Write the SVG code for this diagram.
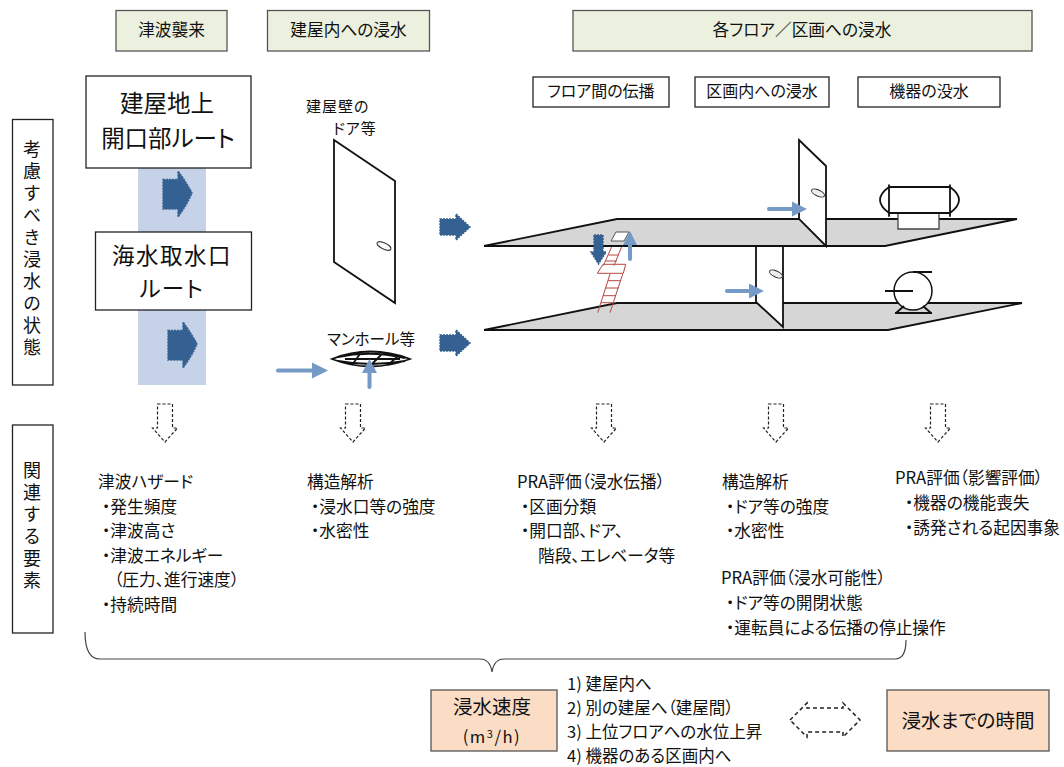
<svg xmlns="http://www.w3.org/2000/svg" width="1064" height="767" viewBox="0 0 1064 767">
<style>
text{font-family:"Noto Sans CJK JP","Liberation Sans",sans-serif;fill:#111;font-size:16.700px;font-feature-settings:"palt"}
.c{text-anchor:middle}
.hd{fill:#ebf1de;stroke:#555;stroke-width:1.3}
.bx{fill:#fff;stroke:#222;stroke-width:1.3}
.org{fill:#fbdcc5;stroke:#555;stroke-width:1.3}
.big{font-size:23.500px}
.v{writing-mode:vertical-rl;text-orientation:upright;font-size:18px;letter-spacing:4px;font-feature-settings:normal}
.m{font-size:19.500px}
.li{font-size:16.500px}
.sh{font-size:16px}
.flr{fill:#d6d6d6;stroke:none}
.k{stroke:#111;stroke-width:1.8;fill:none}
.wl{fill:#fff;stroke:#111;stroke-width:1.8}
.dk{fill:#356192;stroke:#356192;stroke-width:1.500;stroke-dasharray:2 1}
.lt{fill:#759ac6}
.ltl{stroke:#759ac6;stroke-width:4;stroke-linecap:round;fill:none}
.da{fill:#fff;stroke:#222;stroke-width:1.2;stroke-dasharray:3 2}
.r{stroke:#b5473f;stroke-width:1;fill:none}
</style>
<defs>
<path id="blk" d="M0 8.500H15V0Q24 12 29 22 24 34 15 46V38H0Z" class="dk"/>
<path id="blks" d="M0 5H16V0L30 13 16 26V21H0Z" class="dk"/>
<path id="dn" d="M-7.500 0H7.500V24H12.500L0 38-12.500 24H-7.500Z" class="da"/>
</defs>
<g id="band"><rect x="138" y="168" width="68" height="217" fill="#c5d2e7"/></g>
<g id="hdr-tsunami"><rect class="hd" x="116" y="10.500" width="111" height="40.500"/><text class="c" x="171.500" y="36">津波襲来</text></g>
<g id="hdr-building"><rect class="hd" x="267.500" y="10.500" width="162" height="40.500"/><text class="c" x="348.500" y="36">建屋内への浸水</text></g>
<g id="hdr-floors"><rect class="hd" x="573" y="10.500" width="459" height="40.500"/><text class="c" x="802" y="36">各フロア／区画への浸水</text></g>
<g id="sub-1"><rect class="bx" x="533" y="77" width="136" height="30"/><text class="c sh" x="601" y="97">フロア間の伝播</text></g>
<g id="sub-2"><rect class="bx" x="695" y="77" width="134" height="30"/><text class="c sh" x="762" y="97">区画内への浸水</text></g>
<g id="sub-3"><rect class="bx" x="858" y="77" width="142" height="30"/><text class="c sh" x="929" y="97">機器の没水</text></g>
<g id="side-1"><rect class="bx" x="12.500" y="119.500" width="40.500" height="265.500"/><text class="v" x="32" y="140">考慮すべき浸水の状態</text></g>
<g id="side-2"><rect class="bx" x="12.500" y="425" width="40.500" height="208"/><text class="v" x="32" y="461">関連する要素</text></g>
<g id="route-1"><rect class="bx" x="86" y="76" width="165" height="92"/><text class="c big" x="167" y="112">建屋地上</text><text class="c big" x="168" y="147">開口部ルート</text></g>
<g id="route-2"><rect class="bx" x="95.500" y="232" width="156" height="78"/><text class="c" style="font-size:22.500px;letter-spacing:1.500px" x="172" y="264">海水取水口</text><text class="c" style="font-size:22.500px;letter-spacing:1.500px" x="172" y="297">ルート</text></g>
<g id="door"><path class="wl" d="M334 140L395 181V303L334 262Z"/><ellipse cx="384" cy="246" rx="7.500" ry="3" transform="rotate(25 384 246)" fill="#fff" stroke="#333"/><text x="306" y="112" style="font-size:15px;letter-spacing:1px">建屋壁の</text><text x="333" y="134" style="font-size:15px;letter-spacing:1px">ドア等</text></g>
<g id="manhole"><text class="c" x="371" y="345" style="font-size:15.500px">マンホール等</text>
<path class="k" d="M332 359Q370 344 410 359Q370 374 332 359ZM338 357Q370 350 405 358M338 361Q370 367 405 361" stroke-width="1.300"/><path class="k" d="M352 365L360 354M371 365L381 355M388 365L397 357M345 359H400" stroke-width="1"/></g>
<g id="floors">
<path class="flr" d="M484 246L617 219H1017L885 246Z"/><path class="k" d="M484 246L617 219H1017L885 246H484"/>
<path class="flr" d="M484 330L617 303H1022L888 330Z"/><path class="k" d="M484 330L617 303H1022L888 330H484"/>
</g>
<g id="stairs"><path class="r" d="M621.700 246.700L614 265.700M611.700 246.700L603.300 265.700M597.300 273.300L603 264.300H625.700L623.300 273.300ZM610 274L597.700 312.700M622.700 274L610 312.700M608.500 255H618.500M606 261H616.500M608 280.700H621M605.500 288H618.500M603 295.700H616M601 302.700H613.500"/></g>
<g id="hatch"><path d="M616 232H629L624 241H611Z" fill="#fff" stroke="#555" stroke-width="1"/></g>
<g id="wall-upper"><path class="wl" d="M799 140L826 166V246L799 219Z"/><ellipse cx="818" cy="193" rx="7" ry="3" transform="rotate(25 818 193)" fill="#eee" stroke="#333"/></g>
<g id="wall-lower"><path class="wl" d="M756 246H783V327L756 302Z"/><ellipse cx="776" cy="274" rx="7" ry="3" transform="rotate(25 776 274)" fill="#eee" stroke="#333"/></g>
<g id="tank"><path class="bx" d="M898 213H939V229H898Z" style="stroke:#444"/><path d="M889 187H950V213H889Z" fill="#fff"/><path class="k" d="M889 187H950M889 213H950M889 184.500V216.700M950 184.500V216.700M889 187Q871 200 889 213M950 187Q968 200 950 213" stroke-width="1.500"/></g>
<g id="pump"><circle cx="913" cy="291" r="19" fill="#fff" stroke="#111" stroke-width="1.500"/><path class="k" d="M885 291H913M913 272H932M895 313H932M896 313L904 306M931 313L923 306" stroke-width="1.500"/></g>
<g id="connectors">
<use href="#blk" x="163" y="171"/><use href="#blk" x="168" y="322"/>
<use href="#blks" x="440" y="214"/><use href="#blks" x="440" y="330"/>
<path class="ltl" d="M278 370.500H314"/><path class="lt" d="M312 362.500L328 370.500 312 378.500Z"/>
<path class="ltl" d="M369.500 387V372"/><path class="lt" d="M362 373L369.500 359 377 373Z"/>
<path class="ltl" d="M769 209H795"/><path class="lt" d="M792 201.500L807 209 792 216.500Z"/>
<path class="ltl" d="M727 291H750"/><path class="lt" d="M749 283.500L764 291 749 298.500Z"/>
<path class="dk" d="M594 235H603V252H606L598.500 264 591 252H594Z"/>
<path class="ltl" d="M630 259V243"/><path class="lt" d="M623 245L630 231 637 245Z"/>
<use href="#dn" x="165" y="404"/><use href="#dn" x="353" y="404"/><use href="#dn" x="604" y="404"/><use href="#dn" x="776" y="404"/><use href="#dn" x="938" y="404"/>
<path d="M85 632Q85 659 100 659H480Q490 659 492 672Q494 659 504 659H895Q906 659 906 640" fill="none" stroke="#444" stroke-width="1.200"/>
<path d="M790 720L807 703V708H843V703L860 720 843 737V732H807V737Z" fill="#fff" stroke="#222" stroke-width="1.500" stroke-dasharray="4 3"/>
</g>
<g id="txt-1"><text x="98" y="488">津波ハザード</text><text x="102" y="512.500">・発生頻度</text><text x="102" y="537">・津波高さ</text><text x="102" y="561.500">・津波エネルギー</text><text x="114" y="586">（圧力、進行速度）</text><text x="102" y="610.500">・持続時間</text></g>
<g id="txt-2"><text x="307" y="488">構造解析</text><text x="311" y="512.500">・浸水口等の強度</text><text x="311" y="537">・水密性</text></g>
<g id="txt-3"><text x="517" y="488">PRA評価（浸水伝播）</text><text x="521" y="512.500">・区画分類</text><text x="521" y="537">・開口部、ドア、</text><text x="538" y="561.500">階段、エレベータ等</text></g>
<g id="txt-4"><text x="722" y="488">構造解析</text><text x="726" y="512.500">・ドア等の強度</text><text x="726" y="537">・水密性</text><text x="721" y="584">PRA評価（浸水可能性）</text><text x="726" y="609">・ドア等の開閉状態</text><text x="726" y="634">・運転員による伝播の停止操作</text></g>
<g id="txt-5"><text x="895" y="484">PRA評価（影響評価）</text><text x="905" y="509">・機器の機能喪失</text><text x="905" y="534">・誘発される起因事象</text></g>
<g id="speed"><rect class="org" x="431" y="690" width="126" height="61"/><text class="c m" x="492" y="714">浸水速度</text><text class="c" x="492" y="743" style="letter-spacing:1.500px">(m<tspan dy="-5" font-size="11">3</tspan><tspan dy="5">/h)</tspan></text></g>
<g id="speed-list"><text class="li" x="567" y="690">1) 建屋内へ</text><text class="li" x="567" y="714">2) 別の建屋へ（建屋間）</text><text class="li" x="567" y="738">3) 上位フロアへの水位上昇</text><text class="li" x="567" y="762">4) 機器のある区画内へ</text></g>
<g id="time"><rect class="org" x="887" y="690" width="162" height="61"/><text class="c m" x="968" y="728">浸水までの時間</text></g>
</svg>
